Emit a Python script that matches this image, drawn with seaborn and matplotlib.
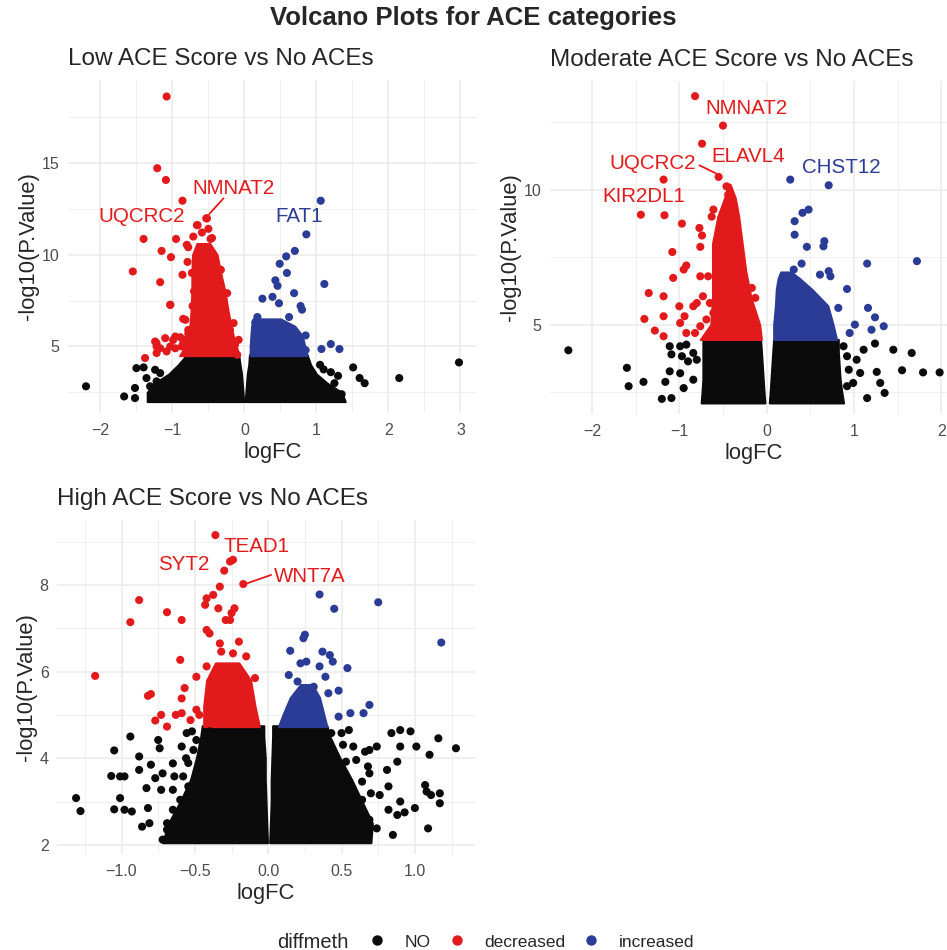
import numpy as np
import pandas as pd
import matplotlib.pyplot as plt
import seaborn as sns
from matplotlib.lines import Line2D

sns.set_style("white")
plt.rcParams['font.family'] = ['Liberation Sans', 'DejaVu Sans']

# colours used for the three groups
col_no = "#0B0B0B"
col_dec = "#E31A1C"
col_inc = "#2B3C97"

# ---------------- Low ACE Score vs No ACEs ----------------
low_dec_x = [-1.08, -1.21, -1.09, -0.86, -0.53, -1.40, -0.95, -1.15, -1.02, -1.55, -1.17, -0.86, -1.03, -0.85,
             -0.65, -0.50, -0.71, -0.59, -0.47, -0.78, -0.79, -0.33, -0.73, -0.70, -0.72, -0.78, -0.89, -0.99,
             -1.10, -1.24, -1.22, -1.38, -1.08, -1.22, -0.87, -0.96, -0.82, -0.66, -0.20, -0.13, -0.10,
             -1.22, -1.17, -1.03, -0.96, -0.85, -0.82, -1.03, -0.78, -0.80, -0.66, -0.52, -0.45, -0.33,
             -0.24, -0.15, -0.08]
low_dec_y = [18.6, 14.7, 14.06, 12.93, 11.97, 10.85, 10.85, 10.2, 9.86, 9.08, 8.5, 8.9, 7.26, 6.5,
             11.6, 11.4, 10.98, 11.2, 10.85, 10.4, 9.6, 9.17, 9.0, 8.0, 7.2, 5.7, 5.5, 5.35,
             5.45, 5.27, 5.0, 4.37, 4.73, 4.64, 5.0, 4.9, 5.36, 6.0, 5.9, 5.1, 4.55,
             5.18, 4.90, 5.00, 5.54, 5.18, 6.45, 7.27, 5.90, 10.53, 11.6, 11.97, 10.9, 9.17,
             7.90, 6.27, 5.36]
low_inc_x = [1.06, 0.86, 0.70, 0.58, 0.49, 1.11, 0.43, 0.59, 0.46, 0.25, 0.39, 0.69, 0.78, 0.80, 0.48,
             0.62, 0.85, 1.07, 1.20, 1.32, 0.85, 0.18, 0.15]
low_inc_y = [12.93, 11.1, 10.2, 9.9, 9.5, 8.4, 8.6, 9.0, 8.3, 7.6, 7.7, 7.9, 7.2, 7.0, 7.35,
             6.6, 5.6, 4.86, 5.13, 4.86, 4.8, 6.6, 6.3]
low_no_x = [-2.2, -1.67, -1.52, -1.52, -1.50, -1.40, -1.24, -1.36, -1.31, -1.22, -1.27, -1.17,
            1.51, 1.60, 1.67, 2.15, 2.98, 1.10, 1.20, 1.30, 1.25, 1.35, 1.05]
low_no_y = [2.83, 2.28, 2.19, 2.74, 3.82, 3.86, 3.73, 3.28, 2.83, 3.10, 2.37, 3.55,
            3.86, 3.28, 3.00, 3.28, 4.13, 3.75, 3.60, 3.40, 3.00, 2.40, 4.00]
# outlines of the dense clouds (y level, left edge, right edge)
low_core_no_y = [2.0, 2.5, 3.0, 3.5, 4.0, 4.55]
low_core_no_left_a = [-1.35, -1.35, -1.25, -1.05, -0.92, -0.80]
low_core_no_left_b = [-0.01, -0.02, -0.03, -0.04, -0.06, -0.08]
low_core_no_right_a = [0.01, 0.02, 0.03, 0.04, 0.06, 0.07]
low_core_no_right_b = [1.40, 1.35, 1.15, 1.00, 0.92, 0.87]
low_core_dec_y = [4.5, 5.0, 5.5, 6.0, 7.0, 8.0, 9.0, 10.0, 10.6]
low_core_dec_a = [-0.90, -0.82, -0.78, -0.76, -0.74, -0.73, -0.73, -0.72, -0.66]
low_core_dec_b = [-0.08, -0.11, -0.15, -0.18, -0.23, -0.27, -0.33, -0.38, -0.48]
low_core_inc_y = [4.5, 5.0, 5.6, 6.1, 6.5]
low_core_inc_a = [0.08, 0.08, 0.09, 0.10, 0.12]
low_core_inc_b = [0.87, 0.84, 0.80, 0.70, 0.50]

# ---------------- Moderate ACE Score vs No ACEs ----------------
mod_dec_x = [-0.82, -0.50, -0.74, -0.55, -1.18, -1.44, -1.17, -0.97, -0.77, -0.74, -0.76, -1.08, -0.61, -0.63,
             -0.92, -0.95, -1.07, -0.76, -0.67, -1.35, -1.18, -1.00, -1.40, -1.18, -1.28, -1.18, -0.99, -0.94,
             -0.84, -0.80, -0.73, -0.65, -0.61, -0.69, -0.76, -0.92, -0.82, -0.17, -0.13, -0.46, -0.44]
mod_dec_y = [13.46, 12.37, 11.70, 10.47, 10.37, 9.07, 9.05, 8.74, 8.58, 8.30, 7.88, 7.69, 9.26, 9.00,
             7.19, 7.04, 6.73, 6.79, 6.79, 6.17, 6.05, 5.68, 5.21, 5.31, 4.78, 4.57, 5.06, 5.31,
             5.68, 5.80, 6.05, 5.80, 5.43, 5.19, 4.94, 4.69, 4.69, 6.36, 5.99, 10.12, 9.81]
mod_inc_x = [0.27, 0.71, 0.48, 0.41, 0.32, 0.32, 0.46, 0.66, 0.65, 1.15, 1.72, 0.40, 0.31, 0.92,
             1.16, 1.24, 1.01, 0.95, 1.20, 1.34, 0.82, 0.71, 0.73, 0.61]
mod_inc_y = [10.37, 10.16, 9.26, 9.14, 8.83, 8.33, 7.88, 8.09, 7.90, 7.26, 7.35, 7.26, 7.04, 6.32,
             5.62, 5.27, 5.00, 4.69, 4.81, 4.94, 5.62, 6.98, 6.79, 6.85]
mod_no_x = [-2.27, -1.60, -1.58, -1.41, -1.20, -1.16, -1.11, -1.09, -1.11, -0.99, -0.97, -0.92, -0.90,
            -0.84, -0.99, -0.95, -1.09, -0.84, -0.80, 1.24, 1.45, 1.66, 1.55, 1.79, 1.98, 1.26, 1.11,
            1.03, 0.94, 1.07, 1.30, 1.35, 1.15, 0.92, 0.92, 0.88, 0.99]
mod_no_y = [4.05, 3.40, 2.72, 2.88, 2.25, 2.88, 4.20, 3.90, 3.27, 4.20, 3.83, 4.26, 3.64,
            3.95, 3.20, 2.65, 2.28, 2.96, 3.70, 4.30, 4.07, 3.95, 3.31, 3.23, 3.23, 3.25, 4.07,
            3.70, 3.33, 3.21, 2.84, 2.47, 2.28, 2.72, 3.83, 4.20, 2.84]
mod_core_no_y = [2.1, 2.5, 3.0, 3.5, 4.0, 4.45]
mod_core_no_left_a = [-0.75, -0.74, -0.73, -0.73, -0.73, -0.73]
mod_core_no_left_b = [-0.02, -0.03, -0.04, -0.05, -0.06, -0.07]
mod_core_no_right_a = [0.03, 0.04, 0.05, 0.06, 0.07, 0.08]
mod_core_no_right_b = [0.88, 0.86, 0.84, 0.83, 0.82, 0.82]
mod_core_dec_y = [4.45, 5.0, 6.0, 7.0, 8.0, 9.0, 9.7, 10.2]
mod_core_dec_a = [-0.76, -0.64, -0.62, -0.62, -0.62, -0.56, -0.48, -0.44]
mod_core_dec_b = [-0.06, -0.08, -0.18, -0.24, -0.28, -0.32, -0.36, -0.42]
mod_core_inc_y = [4.45, 5.0, 5.7, 6.3, 6.7, 6.95]
mod_core_inc_a = [0.08, 0.08, 0.10, 0.11, 0.13, 0.16]
mod_core_inc_b = [0.80, 0.76, 0.70, 0.52, 0.38, 0.28]

# ---------------- High ACE Score vs No ACEs ----------------
high_dec_x = [-0.36, -0.26, -0.24, -0.30, -0.17, -0.33, -0.375, -0.42, -0.88, -0.94, -0.69, -0.59, -0.43, -0.34,
              -0.23, -0.25, -0.29, -0.26, -0.42, -0.40, -0.33, -0.20, -0.32, -0.24, -0.15, -1.18, -0.60, -0.49,
              -0.42, -0.57, -0.82, -0.80, -0.59, -0.73, -0.77, -0.69, -0.63, -0.59, -0.53, -0.49, -0.47, -0.09]
high_dec_y = [9.15, 8.54, 8.58, 8.33, 8.02, 7.96, 7.77, 7.69, 7.65, 7.14, 7.37, 7.19, 7.54, 7.46,
              7.46, 7.35, 7.19, 7.19, 6.96, 6.88, 6.65, 6.69, 6.46, 6.42, 6.35, 5.90, 6.27, 5.88,
              6.12, 5.62, 5.44, 5.48, 5.38, 5.00, 4.87, 4.73, 5.00, 5.04, 4.88, 5.12, 5.00, 5.85]
high_inc_x = [0.35, 0.45, 0.75, 1.18, 0.25, 0.24, 0.15, 0.37, 0.42, 0.44, 0.26, 0.22, 0.54, 0.14,
              0.20, 0.31, 0.39, 0.48, 0.56, 0.65, 0.69, 0.48, 0.41, 0.35]
high_inc_y = [7.78, 7.45, 7.60, 6.67, 6.85, 6.77, 6.48, 6.46, 6.38, 6.23, 6.23, 6.19, 6.08, 5.92,
              5.77, 5.65, 5.88, 5.56, 5.04, 5.04, 5.23, 4.96, 5.50, 6.12]
high_no_x = [-1.31, -1.28, -1.05, -1.07, -1.05, -1.01, -0.98, -1.01, -0.98, -0.94, -0.93, -0.88, -0.88, -0.86,
             -0.82, -0.81, -0.77, -0.75, -0.74, -0.72, -0.73, -0.69, -0.65, -0.64, -0.65, -0.59, -0.52, -0.56,
             -0.80, -0.83,
             -0.49, -0.51, -0.545, -0.58, -0.545, -0.60, -0.65, -0.61, -0.69, -0.72, -0.556, -0.40,
             0.43, 0.50, 0.55, 0.51, 0.58, 0.60, 0.53, 0.66, 0.69, 0.74, 0.68, 0.69, 0.64, 0.70, 0.64, 0.84,
             0.90, 0.97, 0.90, 1.01, 1.10, 1.16, 1.28, 0.88, 0.81, 0.82, 0.76, 0.90, 0.93, 1.00, 0.82, 0.85,
             0.74, 1.07, 1.08, 1.11, 1.17, 1.09, 1.17, 0.88, 0.69, 0.63]
high_no_y = [3.08, 2.78, 4.18, 3.59, 2.82, 3.58, 3.58, 3.08, 2.81, 4.50, 2.77, 4.04, 3.73, 2.42,
             2.85, 2.50, 3.54, 4.42, 4.23, 3.65, 3.27, 2.50, 3.88, 3.58, 3.27, 4.27, 4.62, 4.00,
             3.85, 3.31,
             4.42, 4.19, 3.89, 3.58, 3.35, 3.04, 2.81, 2.54, 2.35, 2.12, 4.58, 4.62,
             4.58, 4.58, 4.65, 4.31, 4.27, 3.96, 3.92, 4.15, 4.19, 4.27, 3.81, 3.65, 3.46, 3.19, 3.04, 4.58,
             4.65, 4.62, 4.27, 4.27, 4.08, 4.46, 4.23, 3.92, 3.73, 3.35, 3.15, 3.00, 2.75, 2.85, 2.81, 2.23,
             2.38, 3.38, 3.23, 3.15, 3.19, 2.38, 2.96, 2.69, 2.58, 2.73]
high_core_no_y = [2.05, 2.5, 3.0, 3.5, 4.0, 4.5, 4.75]
high_core_no_left_a = [-0.72, -0.68, -0.60, -0.53, -0.49, -0.46, -0.45]
high_core_no_left_b = [-0.005, -0.01, -0.015, -0.02, -0.02, -0.03, -0.03]
high_core_no_right_a = [0.01, 0.015, 0.02, 0.02, 0.025, 0.03, 0.03]
high_core_no_right_b = [0.70, 0.71, 0.64, 0.57, 0.49, 0.42, 0.40]
high_core_dec_y = [4.73, 5.2, 5.8, 6.2]
high_core_dec_a = [-0.44, -0.44, -0.42, -0.36]
high_core_dec_b = [-0.06, -0.09, -0.12, -0.20]
high_core_inc_y = [4.73, 5.0, 5.4, 5.7]
high_core_inc_a = [0.07, 0.10, 0.15, 0.22]
high_core_inc_b = [0.40, 0.38, 0.35, 0.30]

# gene labels: text, x, y, colour, leader segment (x0, y0, x1, y1) or None
low_labels = [("UQCRC2", -1.43, 12.07, col_dec, None),
              ("NMNAT2", -0.15, 13.6, col_dec, (-0.29, 13.06, -0.49, 12.2)),
              ("FAT1", 0.76, 12.07, col_inc, None)]
mod_labels = [("NMNAT2", -0.23, 12.99, col_dec, None),
              ("UQCRC2", -1.31, 10.96, col_dec, (-0.77, 10.9, -0.58, 10.6)),
              ("ELAVL4", -0.21, 11.21, col_dec, None),
              ("KIR2DL1", -1.41, 9.75, col_dec, None),
              ("CHST12", 0.85, 10.8, col_inc, None)]
high_labels = [("TEAD1", -0.08, 8.88, col_dec, None),
               ("SYT2", -0.575, 8.46, col_dec, None),
               ("WNT7A", 0.28, 8.19, col_dec, (0.02, 8.23, -0.15, 8.03))]

panels = [
    dict(title="Low ACE Score vs No ACEs", rect=[0.0718, 0.5653, 0.4319, 0.3505],
         xlim=(-2.45, 3.23), ylim=(1.38, 19.5), xt=[-2, -1, 0, 1, 2, 3], yt=[5, 10, 15],
         xm=[-1.5, -0.5, 0.5, 1.5, 2.5], ym=[2.5, 7.5, 12.5, 17.5], xtl=None,
         pts=[(low_no_x, low_no_y, "NO"), (low_dec_x, low_dec_y, "decreased"), (low_inc_x, low_inc_y, "increased")],
         cores=[(low_core_no_y, low_core_no_left_a, low_core_no_left_b, col_no),
                (low_core_no_y, low_core_no_right_a, low_core_no_right_b, col_no),
                (low_core_dec_y, low_core_dec_a, low_core_dec_b, col_dec),
                (low_core_inc_y, low_core_inc_a, low_core_inc_b, col_inc)],
         labels=low_labels),
    dict(title="Moderate ACE Score vs No ACEs", rect=[0.5808, 0.5642, 0.4308, 0.3505],
         xlim=(-2.48, 2.19), ylim=(1.69, 14.02), xt=[-2, -1, 0, 1, 2], yt=[5, 10],
         xm=[-1.5, -0.5, 0.5, 1.5], ym=[2.5, 7.5, 12.5], xtl=None,
         pts=[(mod_no_x, mod_no_y, "NO"), (mod_dec_x, mod_dec_y, "decreased"), (mod_inc_x, mod_inc_y, "increased")],
         cores=[(mod_core_no_y, mod_core_no_left_a, mod_core_no_left_b, col_no),
                (mod_core_no_y, mod_core_no_right_a, mod_core_no_right_b, col_no),
                (mod_core_dec_y, mod_core_dec_a, mod_core_dec_b, col_dec),
                (mod_core_inc_y, mod_core_inc_a, mod_core_inc_b, col_inc)],
         labels=mod_labels),
    dict(title="High ACE Score vs No ACEs", rect=[0.0602, 0.1011, 0.4414, 0.3516],
         xlim=(-1.44, 1.41), ylim=(1.79, 9.5), xt=[-1.0, -0.5, 0.0, 0.5, 1.0], yt=[2, 4, 6, 8],
         xm=[-1.25, -0.75, -0.25, 0.25, 0.75, 1.25], ym=[3, 5, 7, 9],
         xtl=["\u22121.0", "\u22120.5", "0.0", "0.5", "1.0"],
         pts=[(high_no_x, high_no_y, "NO"), (high_dec_x, high_dec_y, "decreased"), (high_inc_x, high_inc_y, "increased")],
         cores=[(high_core_no_y, high_core_no_left_a, high_core_no_left_b, col_no),
                (high_core_no_y, high_core_no_right_a, high_core_no_right_b, col_no),
                (high_core_dec_y, high_core_dec_a, high_core_dec_b, col_dec),
                (high_core_inc_y, high_core_inc_a, high_core_inc_b, col_inc)],
         labels=high_labels),
]

palette = {"NO": col_no, "decreased": col_dec, "increased": col_inc}

fig = plt.figure(figsize=(9.47, 9.5), dpi=100)
fig.text(0.5, 1 - 18 / 950, "Volcano Plots for ACE categories", ha="center", va="center",
         fontsize=18.5, fontweight="bold")

for p in panels:
    ax = fig.add_axes(p["rect"])
    # dense clouds of points
    for ys, xa, xb, c in p["cores"]:
        ax.fill_betweenx(ys, xa, xb, color=c, linewidth=1.5, edgecolor=c, joinstyle="round", zorder=2)
    df = pd.concat([pd.DataFrame({"logFC": x, "nlogp": y, "diffmeth": g}) for x, y, g in p["pts"]])
    sns.scatterplot(data=df, x="logFC", y="nlogp", hue="diffmeth", palette=palette, s=34,
                    linewidth=0, legend=False, ax=ax, zorder=3)
    for txt, tx, ty, c, seg in p["labels"]:
        ax.text(tx, ty, txt, color=c, fontsize=14.8, ha="center", va="center", zorder=4)
        if seg is not None:
            ax.plot([seg[0], seg[2]], [seg[1], seg[3]], color=c, lw=1.3, zorder=4)
    ax.set_xlim(*p["xlim"])
    ax.set_ylim(*p["ylim"])
    ax.set_xticks(p["xt"])
    if p["xtl"] is not None:
        ax.set_xticklabels(p["xtl"])
    ax.set_yticks(p["yt"])
    ax.set_xticks(p["xm"], minor=True)
    ax.set_yticks(p["ym"], minor=True)
    ax.grid(True, which="major", color="#EBEBEB", linewidth=1.1, zorder=0)
    ax.grid(True, which="minor", color="#EBEBEB", linewidth=0.55, zorder=0)
    ax.set_axisbelow(True)
    for s in ax.spines.values():
        s.set_visible(False)
    ax.tick_params(which="both", length=0, labelsize=11.5, labelcolor="#4D4D4D")
    ax.tick_params(axis="x", pad=7)
    ax.tick_params(axis="y", pad=6)
    ax.set_xlabel("logFC", fontsize=15.8, labelpad=3)
    ax.set_ylabel("-log10(P.Value)", fontsize=15.8, labelpad=2)
    ax.set_title(p["title"], loc="left", fontsize=17.5, pad=11)

# legend at the bottom
fig.text(277 / 947, 1 - 942 / 950, "diffmeth", fontsize=14.5, va="center", ha="left")
handles = [Line2D([], [], marker="o", linestyle="", markersize=6.5, color=palette[k]) for k in palette]
fig.legend(handles, list(palette.keys()), loc="center left", bbox_to_anchor=(368 / 947, 1 - 942 / 950),
           ncol=3, frameon=False, fontsize=12.5, handletextpad=1.1, columnspacing=1.0,
           handlelength=1.0, borderaxespad=0, borderpad=0)

fig.savefig("out.png", dpi=100)
